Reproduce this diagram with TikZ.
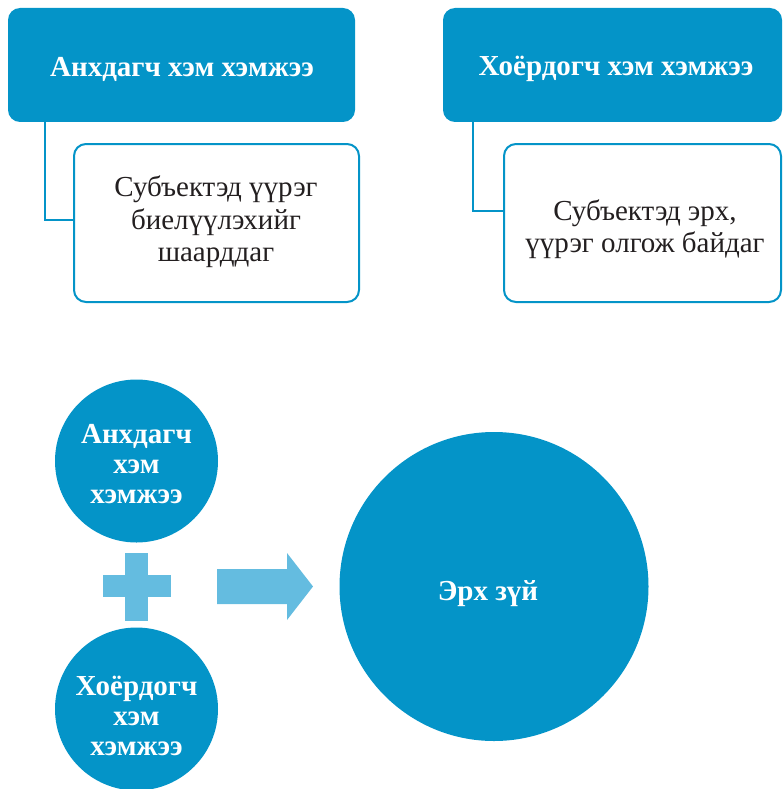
\documentclass[tikz,border=0pt]{standalone}
\usepackage{fontspec}
\setmainfont{Liberation Serif}
\definecolor{dblue}{HTML}{0494C8}
\definecolor{lblue}{HTML}{64BCE0}
\definecolor{txt}{HTML}{231F20}
\begin{document}
\begin{tikzpicture}[x=1pt,y=-1pt,
  titlebox/.style={fill=dblue,rounded corners=12pt},
  subbox/.style={draw=dblue,line width=2pt,fill=white,rounded corners=12pt},
  conn/.style={draw=dblue,line width=2pt},
  ttext/.style={text=white,font=\fontsize{29}{30}\selectfont\bfseries,align=center},
  btext/.style={text=txt,font=\fontsize{29}{32.5}\selectfont,align=center},
  bigc/.style={circle,fill=dblue,inner sep=0pt}]
\useasboundingbox (0,0) rectangle (783,789);
\begin{scope}
\clip (0,0) rectangle (783,789);
% top-left
\draw[conn] (45,110) -- (45,220) -- (80,220);
\fill[titlebox] (8,8) rectangle (355,122);
\node[ttext] (t1) at (182,69) {Анхдагч хэм хэмжээ};
\draw[subbox] (74,144) rectangle (359,302);
\node[btext] (s1) at (216,222) {Субъектэд үүрэг\\биелүүлэхийг\\шаарддаг};
% top-right
\draw[conn] (473,110) -- (473,211) -- (510,211);
\fill[titlebox] (443,8) rectangle (782,122);
\node[ttext] (t2) at (616,69) {Хоёрдогч хэм хэмжээ};
\draw[subbox] (504,144) rectangle (781,302);
\node[btext] (s2) at (645,229) {Субъектэд эрх,\\үүрэг олгож байдаг};
% circles
\node[bigc,minimum size=163pt] (c1) at (136.5,461) {};
\node[ttext] at (136.5,464) {Анхдагч\\хэм\\хэмжээ};
\node[bigc,minimum size=163pt] (c2) at (136.5,709) {};
\node[ttext] at (136.5,716) {Хоёрдогч\\хэм\\хэмжээ};
\node[bigc,minimum size=309pt] (c3) at (494,586.5) {};
\node[ttext] at (488,594) {Эрх зүй};
% plus
\fill[lblue] (125,553) rectangle (148,621);
\fill[lblue] (103,575) rectangle (171,597);
% arrow
\fill[lblue] (217,569) -- (287,569) -- (287,553) -- (313,586.5) -- (287,620) -- (287,604) -- (217,604) -- cycle;
\end{scope}
\end{tikzpicture}
\end{document}
